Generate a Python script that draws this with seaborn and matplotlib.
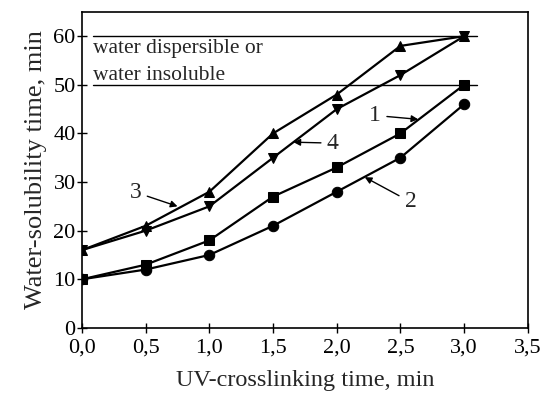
import matplotlib
matplotlib.use("Agg")
import matplotlib.pyplot as plt
import seaborn as sns
import pandas as pd

x_vals = [0.0, 0.5, 1.0, 1.5, 2.0, 2.5, 3.0]
s1 = [10, 13, 18, 27, 33, 40, 50]
s2 = [10, 12, 15, 21, 28, 35, 46]
s3 = [16, 21, 28, 40, 48, 58, 60]
s4 = [16, 20, 25, 35, 45, 52, 60]
series_names = ["1", "2", "3", "4"]
x_ticks = [0.0, 0.5, 1.0, 1.5, 2.0, 2.5, 3.0, 3.5]
x_tick_labels = ["0,0", "0,5", "1,0", "1,5", "2,0", "2,5", "3,0", "3,5"]
y_ticks = [0, 10, 20, 30, 40, 50, 60]
thresholds = [60, 50]

rows = []
for name, vals in zip(series_names, [s1, s2, s3, s4]):
    for xv, yv in zip(x_vals, vals):
        rows.append({"x": xv, "y": yv, "series": name})
df = pd.DataFrame(rows)

sns.set_style("ticks")
plt.rcParams["font.family"] = ["Liberation Serif", "DejaVu Serif"]

fig = plt.figure(figsize=(5.43, 3.96), dpi=100)
ax = fig.add_axes([0.151, 0.172, 0.821, 0.798])

markers = {"1": "s", "2": "o", "3": "^", "4": "v"}
sns.lineplot(data=df, x="x", y="y", style="series", markers=markers, dashes=False,
             color="black", linewidth=1.6, markersize=7.5, markeredgecolor="black",
             legend=False, ax=ax)

for t in thresholds:
    ax.plot([0.09, 3.1], [t, t], color="black", linewidth=1.0)

ax.text(0.09, 57.4, "water dispersible or", fontsize=15.5, va="center", ha="left")
ax.text(0.09, 52.0, "water insoluble", fontsize=15.5, va="center", ha="left")

arrow = dict(arrowstyle="-|>", color="black", lw=1.0, mutation_scale=10, shrinkA=2, shrinkB=0)
ax.annotate("1", xy=(2.64, 42.9), xytext=(2.30, 43.7), fontsize=17, ha="center", va="center",
            arrowprops=arrow)
ax.annotate("4", xy=(1.66, 38.2), xytext=(1.97, 38.0), fontsize=17, ha="center", va="center",
            arrowprops=arrow)
ax.annotate("3", xy=(0.75, 25.0), xytext=(0.42, 27.9), fontsize=17, ha="center", va="center",
            arrowprops=arrow)
ax.annotate("2", xy=(2.22, 31.0), xytext=(2.58, 25.9), fontsize=17, ha="center", va="center",
            arrowprops=arrow)

ax.set_xlim(0, 3.5)
ax.set_ylim(0, 65)
ax.set_xticks(x_ticks)
ax.set_xticklabels(x_tick_labels)
ax.set_yticks(y_ticks)
ax.tick_params(axis="both", labelsize=16, direction="inout", length=7, width=1, colors="black")
ax.tick_params(axis="x", pad=4)
ax.tick_params(axis="y", pad=1)
ax.set_xlabel("UV-crosslinking time, min", fontsize=17.5, labelpad=9)
ax.set_ylabel("Water-solubility time, min", fontsize=19, labelpad=5)
for sp in ax.spines.values():
    sp.set_visible(True)
    sp.set_linewidth(1.2)
    sp.set_color("black")

fig.savefig("out.png", dpi=100)
